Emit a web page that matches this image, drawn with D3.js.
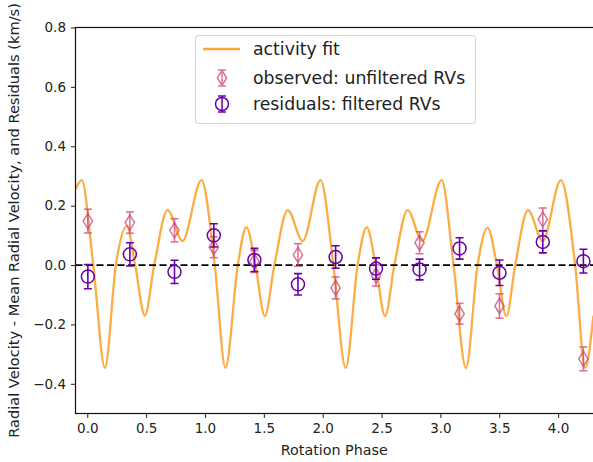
<!DOCTYPE html>
<html><head><meta charset="utf-8">
<script src="https://cdn.jsdelivr.net/npm/d3@7"></script>
<style>
html,body{margin:0;padding:0;background:#fff;}
svg{display:block;font-family:"DejaVu Sans",sans-serif;}
</style></head>
<body>
<svg id="chart" width="593" height="462"></svg>
<script>
// ---- data ----
const obsPhase = [0.005, 0.362, 0.741, 1.075, 1.420, 1.790, 2.110, 2.453, 2.823, 3.163, 3.502, 3.870, 4.215];
const observed = [0.148, 0.143, 0.117, 0.060, 0.012, 0.034, -0.077, -0.035, 0.075, -0.164, -0.138, 0.154, -0.316];
const observedErr = [0.040, 0.036, 0.039, 0.035, 0.037, 0.038, 0.037, 0.036, 0.037, 0.035, 0.041, 0.038, 0.040];
const residuals = [-0.039, 0.036, -0.023, 0.100, 0.017, -0.065, 0.027, -0.012, -0.015, 0.056, -0.026, 0.078, 0.013];
const residualsErr = [0.041, 0.039, 0.039, 0.039, 0.039, 0.036, 0.038, 0.036, 0.035, 0.036, 0.043, 0.037, 0.040];

const fitPhase = [-0.100, -0.048, 0.051, 0.150, 0.243, 0.336, 0.407, 0.489, 0.569, 0.682, 0.809, 0.970,
                  1.083, 1.174, 1.279, 1.352, 1.429, 1.508, 1.590, 1.703, 1.830, 1.982,
                  2.091, 2.195, 2.297, 2.374, 2.450, 2.530, 2.609, 2.722, 2.846, 3.010,
                  3.112, 3.217, 3.316, 3.401, 3.480, 3.560, 3.636, 3.744, 3.869, 4.024,
                  4.145, 4.230, 4.300];
const fitValue = [0.255, 0.286, 0.000, -0.346, 0.000, 0.131, 0.000, -0.170, 0.000, 0.185, 0.081, 0.286,
                  0.000, -0.346, 0.000, 0.128, 0.000, -0.172, 0.000, 0.185, 0.081, 0.286,
                  0.000, -0.346, 0.000, 0.128, 0.000, -0.172, 0.000, 0.185, 0.081, 0.286,
                  0.000, -0.347, 0.000, 0.126, 0.000, -0.172, 0.000, 0.185, 0.081, 0.286,
                  0.000, -0.346, -0.170];

const xTicks = [0.0, 0.5, 1.0, 1.5, 2.0, 2.5, 3.0, 3.5, 4.0];
const yTicks = [-0.4, -0.2, 0.0, 0.2, 0.4, 0.6, 0.8];
const legendLabels = ["activity fit", "observed: unfiltered RVs", "residuals: filtered RVs"];

// ---- styles ----
const cFit = "#fca636", cObs = "#cc4778", cRes = "#6a00a8";
const mLeft = 75.5, mTop = 27.5, mBottom = 413.5, mRight = 596;

const svg = d3.select("#chart");
const x = d3.scaleLinear().domain([-0.1, 4.322]).range([mLeft, mRight]);
const y = d3.scaleLinear().domain([-0.5, 0.8]).range([mBottom, mTop]);

const defs = svg.append("defs");
defs.append("clipPath").attr("id","clip").append("rect")
  .attr("x", mLeft).attr("y", mTop).attr("width", mRight-mLeft).attr("height", mBottom-mTop);

const plot = svg.append("g").attr("clip-path","url(#clip)");

// fit line
const fitData = fitPhase.map((p,i)=>[p, fitValue[i]]);
plot.append("path").datum(fitData)
  .attr("d", d3.line().x(d=>x(d[0])).y(d=>y(d[1])).curve(d3.curveMonotoneX))
  .attr("fill","none").attr("stroke",cFit).attr("stroke-width",2.3).attr("stroke-opacity",0.92);

// zero line
plot.append("line").attr("x1", mLeft).attr("x2", mRight).attr("y1", y(0)).attr("y2", y(0))
  .attr("stroke","#000").attr("stroke-width",1.8).attr("stroke-dasharray","7,3.5");

function errbars(g, vals, errs, color, op){
  const gg = g.append("g").attr("stroke", color).attr("stroke-width",1.6).attr("opacity", op);
  obsPhase.forEach((p,i)=>{
    const cx = x(p), y1 = y(vals[i]-errs[i]), y2 = y(vals[i]+errs[i]);
    gg.append("line").attr("x1",cx).attr("x2",cx).attr("y1",y1).attr("y2",y2);
    gg.append("line").attr("x1",cx-4).attr("x2",cx+4).attr("y1",y1).attr("y2",y1);
    gg.append("line").attr("x1",cx-4).attr("x2",cx+4).attr("y1",y2).attr("y2",y2);
  });
}
function diamond(cx, cy){ return `M${cx},${cy-7.5}L${cx+4.7},${cy}L${cx},${cy+7.5}L${cx-4.7},${cy}Z`; }

// observed
errbars(plot, observed, observedErr, cObs, 0.75);
plot.append("g").selectAll("path").data(observed).join("path")
  .attr("d",(d,i)=>diamond(x(obsPhase[i]), y(d)))
  .attr("fill","none").attr("stroke",cObs).attr("stroke-width",1.5).attr("opacity",0.75);

// residuals
errbars(plot, residuals, residualsErr, cRes, 1);
plot.append("g").selectAll("circle").data(residuals).join("circle")
  .attr("cx",(d,i)=>x(obsPhase[i])).attr("cy",d=>y(d)).attr("r",6.5)
  .attr("fill","none").attr("stroke",cRes).attr("stroke-width",1.5);

// axes
const fmt = d => d3.format(".1f")(d).replace("-", "\u2212");
const xAxis = svg.append("g").attr("transform",`translate(0,${mBottom})`)
  .call(d3.axisBottom(x).tickValues(xTicks).tickFormat(fmt).tickSize(4.5).tickPadding(5));
const yAxis = svg.append("g").attr("transform",`translate(${mLeft},0)`)
  .call(d3.axisLeft(y).tickValues(yTicks).tickFormat(fmt).tickSize(4.5).tickPadding(5));
[xAxis,yAxis].forEach(a=>{
  a.select(".domain").remove();
  a.selectAll("text").attr("font-size",13.5).attr("fill","#222").attr("font-family","DejaVu Sans");
  a.selectAll("line").attr("stroke","#222").attr("stroke-width",1);
});
// spines
svg.append("rect").attr("x",mLeft).attr("y",mTop).attr("width",mRight-mLeft).attr("height",mBottom-mTop)
  .attr("fill","none").attr("stroke","#111").attr("stroke-width",1.2);

// labels
svg.append("text").attr("x",(mLeft+593)/2).attr("y",455).attr("text-anchor","middle")
  .attr("font-size",14.3).attr("fill","#222").text("Rotation Phase");
svg.append("text").attr("transform",`translate(19,${(mTop+mBottom)/2}) rotate(-90)`)
  .attr("text-anchor","middle").attr("font-size",14.6).attr("fill","#222")
  .text("Radial Velocity - Mean Radial Velocity, and Residuals (km/s)");

// legend
const lg = svg.append("g");
lg.append("rect").attr("x",195.5).attr("y",35.5).attr("width",280).attr("height",88).attr("rx",3)
  .attr("fill","#fff").attr("fill-opacity",0.85).attr("stroke","#d0d0d0").attr("stroke-width",1);
const rows = [49, 78, 104];
lg.append("line").attr("x1",203).attr("x2",240).attr("y1",rows[0]).attr("y2",rows[0])
  .attr("stroke",cFit).attr("stroke-width",2.3);
const lo = lg.append("g").attr("stroke",cObs).attr("stroke-width",1.5).attr("fill","none").attr("opacity",0.75);
lo.append("line").attr("x1",222).attr("x2",222).attr("y1",rows[1]-8).attr("y2",rows[1]+8);
lo.append("line").attr("x1",218).attr("x2",226).attr("y1",rows[1]-8).attr("y2",rows[1]-8);
lo.append("line").attr("x1",218).attr("x2",226).attr("y1",rows[1]+8).attr("y2",rows[1]+8);
lo.append("path").attr("d",diamond(222, rows[1]));
const lr = lg.append("g").attr("stroke",cRes).attr("stroke-width",1.5).attr("fill","none");
lr.append("line").attr("x1",222).attr("x2",222).attr("y1",rows[2]-8).attr("y2",rows[2]+8);
lr.append("line").attr("x1",218).attr("x2",226).attr("y1",rows[2]-8).attr("y2",rows[2]-8);
lr.append("line").attr("x1",218).attr("x2",226).attr("y1",rows[2]+8).attr("y2",rows[2]+8);
lr.append("circle").attr("cx",222).attr("cy",rows[2]).attr("r",6.5);
legendLabels.forEach((t,i)=>{
  lg.append("text").attr("x",253).attr("y",rows[i]+6).attr("font-size",17.3).attr("fill","#222").text(t);
});
</script>
</body></html>
